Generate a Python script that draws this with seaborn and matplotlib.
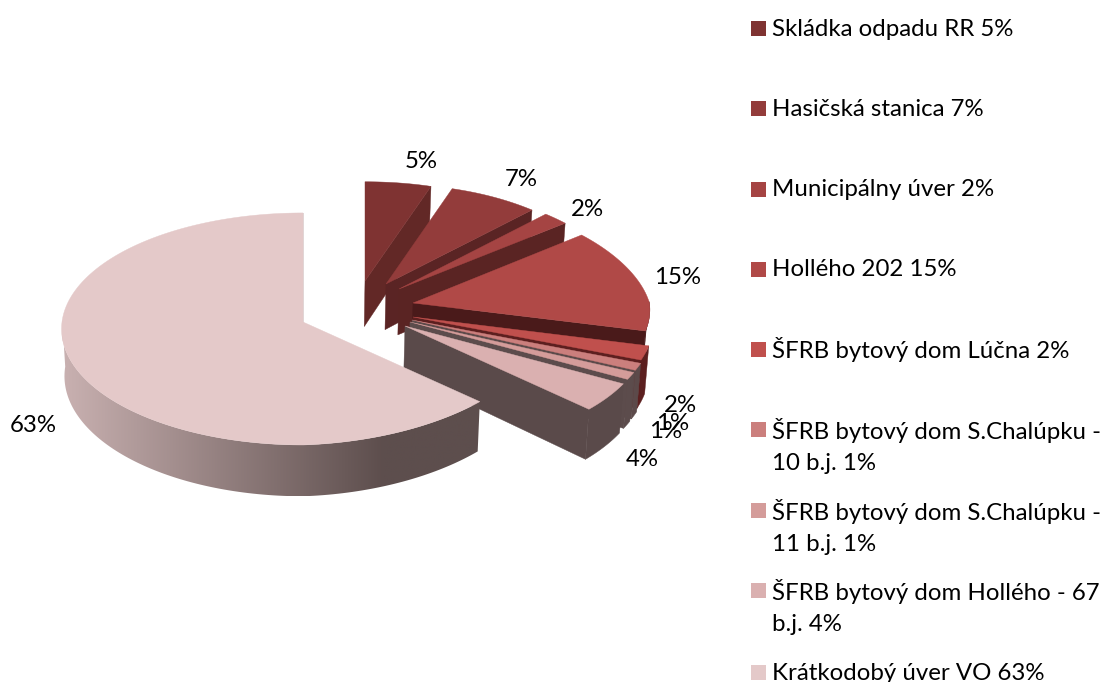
import numpy as np
import matplotlib
matplotlib.use("Agg")
import matplotlib.pyplot as plt
from matplotlib.patches import Rectangle, Polygon
import seaborn as sns

sns.set_theme(style="white")
plt.rcParams['font.family'] = ['Lato', 'DejaVu Sans']

# data
names = ["Skládka odpadu RR", "Hasičská stanica", "Municipálny úver", "Hollého 202",
         "ŠFRB bytový dom Lúčna", "ŠFRB bytový dom S.Chalúpku -\n10 b.j.",
         "ŠFRB bytový dom S.Chalúpku -\n11 b.j.", "ŠFRB bytový dom Hollého - 67\nb.j.",
         "Krátkodobý úver VO"]
shares = [5, 7, 2, 15, 2, 1, 1, 4, 63]

# colours of the top faces and of the side walls
faces = sns.color_palette(["#7f3332", "#933c3b", "#a54443", "#b04947", "#c0504d",
                           "#cb7f7d", "#d49c9a", "#dab0b0", "#e4c9c9"])
walls = sns.color_palette(["#622826", "#5a2424", "#5a2423", "#4a1a1a", "#5c1f1f",
                           "#5c4a4a", "#5c4c4c", "#5a4a4a", "#b8a4a4"])

# layout, in pixels
apex_x, apex_y = 303, 322
rad_x, rad_y, persp = 241, 115.6, 0.06
shifts = [(62, -41), (83, -38), (96, -33), (110, -19), (110, -5),
          (109, -2), (107, 0), (102, 4), (0, 0)]
narrow = [0.04, 0.04, 0.04, 0.04, 0, 0, 0, 0, 0.035]
label_xy = [(421, 161), (521, 180), (587, 209), (678, 278), (680, 405),
            (673, 424), (666, 431), (642, 459), (33, 425)]
legend_y = [29, 109, 190, 270, 350, 446, 527, 607, 673]


def project(ang, i):
    shift = shifts[i]
    u, v = np.cos(ang), np.sin(ang)
    sy = 1 + 0.0022 * shift[1]
    sx = 1 + 0.001 * shift[1]
    f = 1 - narrow[i] * np.abs(np.sin(2 * ang)) * (u > 0) * ((v > 0) | (i == len(shares) - 1))
    x = apex_x + shift[0] + sx * f * rad_x * u / (1 + persp * v)
    y = apex_y + shift[1] - np.where(v < 0, f, 1) * sy * rad_y * v / (1 + persp * v)
    return x, y


def drop(x, y):
    # bottom edge of a wall below a point of the top face
    h = 47 + 0.035 * (y - apex_y)
    return x + (apex_x - x) * 0.012, y + h


def big_wall_colour(x):
    t = np.clip((x - 65) / (383 - 65), 0, 1)[..., None]
    return (np.array([200, 176, 176]) + t * np.array([-107, -98, -99])) / 255


fig = plt.figure(figsize=(11.04, 6.82), dpi=100)
ax = fig.add_axes([0, 0, 1, 1])
ax.axis("off")

edges = np.deg2rad(90 - 3.6 * np.cumsum([0] + shares))
last = len(shares) - 1

for i in range(len(shares)):
    ang = np.linspace(edges[i], edges[i + 1], 200)
    x, y = project(ang, i)
    ax0, ay0 = apex_x + shifts[i][0], apex_y + shifts[i][1]
    xb, yb = drop(x, y)
    ax0b, ay0b = drop(ax0, ay0)

    # wall along the clockwise edge
    ax.fill([ax0, x[-1], xb[-1], ax0b], [ay0, y[-1], yb[-1], ay0b],
            color=walls[i], lw=0.3, zorder=i * 3)

    # wall along the arc, only where it faces the viewer
    front = np.sin(ang) < 0.02
    outline = np.c_[np.r_[x[front], xb[front][::-1]], np.r_[y[front], yb[front][::-1]]]
    if i == last:
        xs = np.linspace(outline[:, 0].min(), outline[:, 0].max(), 400)
        im = ax.imshow(big_wall_colour(xs)[None, :, :], aspect="auto", zorder=i * 3 + 1,
                       extent=(xs[0], xs[-1], outline[:, 1].max(), outline[:, 1].min()))
        im.set_clip_path(Polygon(outline, transform=ax.transData))
    else:
        ax.fill(outline[:, 0], outline[:, 1], color=walls[i], lw=0.3, zorder=i * 3 + 1)

    # top face
    ax.fill(np.r_[ax0, x], np.r_[ay0, y], color=faces[i], lw=0.3, zorder=i * 3 + 2)

    ax.text(label_xy[i][0], label_xy[i][1], f"{shares[i]}%", fontsize=17.3,
            color="black", ha="center", va="center", zorder=50)

# legend
for i in range(len(names)):
    mark_y = legend_y[i] - 17 if "\n" in names[i] else legend_y[i] - 1
    ax.add_patch(Rectangle((751, mark_y - 7.5), 15, 15, color=faces[i], lw=0))
    ax.text(772, legend_y[i], f"{names[i]} {shares[i]}%", fontsize=17.3, color="black",
            ha="left", va="center", linespacing=1.55)

ax.set_xlim(0, 1104)
ax.set_ylim(682, 0)
fig.savefig("out.png", dpi=100)
